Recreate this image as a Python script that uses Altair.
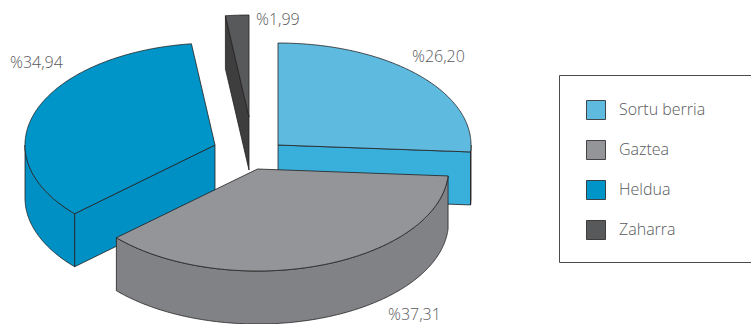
import math
import altair as alt

# Pie shares, in percent, and their names
names = ["Sortu berria", "Gaztea", "Heldua", "Zaharra"]
shares = [26.20, 37.31, 34.94, 1.99]
labels = ["%26,20", "%37,31", "%34,94", "%1,99"]

# Colours of the top faces and of the side walls
top_colors = ["#5fbadf", "#939598", "#0095c8", "#58595b"]
wall_colors = ["#39b0dc", "#808285", "#0090c4", "#3e3e3e"]
edge_color = "#231f20"
edge_width = 0.8
text_color = "#58595b"
font = "Open Sans"

# Layout of the exploded slices: apex of each slice, ellipse radii, wall height
apex = [(278, 145), (257.5, 169), (215, 145), (249, 117)]
radius_x = [193, 191, 190, 190]
radius_y = 102
depth = 53
label_pos = [(412, 57), (388, 315), (10, 63), (256, 20)]
draw_order = [3, 2, 0, 1]

total = sum(shares)
edges = [0.0]
for s in shares:
    edges.append(edges[-1] + 360.0 * s / total)


def rim_point(i, deg, drop=0):
    a = math.radians(deg)
    cx, cy = apex[i]
    return (cx + radius_x[i] * math.sin(a), cy - radius_y * math.cos(a) + drop)


def arc(i, start, end, drop=0):
    n = max(2, int(abs(end - start)) * 2)
    return [rim_point(i, start + (end - start) * k / n, drop) for k in range(n + 1)]


def feature(name, ring):
    ring = [list(p) for p in ring]
    return {
        "type": "Feature",
        "properties": {"name": name},
        "geometry": {"type": "Polygon", "coordinates": [ring + [ring[0]]]},
    }


def shifted(point):
    return (point[0], point[1] + depth)


def side_faces(i):
    """Walls of a slice that face the viewer, back to front."""
    start, end = edges[i], edges[i + 1]
    faces = []
    if start >= 90 and start <= 270 and end > 270:
        # cut face running from the apex to the start of the rim
        p = rim_point(i, start)
        faces.append([apex[i], p, shifted(p), shifted(apex[i])])
    if end <= 360 and end > 270 and start > 270:
        p = rim_point(i, start)
        faces.append([apex[i], p, shifted(p), shifted(apex[i])])
    if start < 90 < end:
        p = rim_point(i, end)
        faces.append([apex[i], p, shifted(p), shifted(apex[i])])
    lo, hi = max(start, 90), min(end, 270)
    if lo < hi:
        faces.append(arc(i, lo, hi) + arc(i, hi, lo, depth))
    return faces


def top_face(i):
    return [apex[i]] + arc(i, edges[i], edges[i + 1])


projection = alt.Projection(type="identity", scale=1, translate=[0, 0])
layers = [
    alt.Chart(alt.Data(values=[{"a": 1}]))
    .mark_rect(fillOpacity=0, stroke="#4a4a4a", strokeWidth=1)
    .encode(
        x=alt.value(559.5),
        x2=alt.value(790),
        y=alt.value(75.5),
        y2=alt.value(262.5),
    )
]

for i in draw_order:
    for face in side_faces(i):
        layers.append(
            alt.Chart(alt.Data(values=[feature(names[i], face)]))
            .mark_geoshape(stroke=edge_color, strokeWidth=edge_width, fill=wall_colors[i])
            .project(**projection.to_dict())
        )
    layers.append(
        alt.Chart(alt.Data(values=[feature(names[i], top_face(i))]))
        .mark_geoshape(stroke=edge_color, strokeWidth=edge_width)
        .encode(
            color=alt.Color(
                "properties.name:N",
                scale=alt.Scale(domain=names, range=top_colors),
                legend=alt.Legend(
                    title=None,
                    orient="none",
                    legendX=586,
                    legendY=100,
                    symbolType="square",
                    symbolSize=361,
                    symbolStrokeColor=edge_color,
                    symbolStrokeWidth=edge_width,
                    labelFont=font,
                    labelFontSize=16,
                    labelFontWeight=300,
                    labelColor=text_color,
                    labelOffset=13,
                    rowPadding=16,
                    padding=0,
                ),
            )
        )
        .project(**projection.to_dict())
    )

for i in range(len(names)):
    layers.append(
        alt.Chart(alt.Data(values=[{"a": 1}]))
        .mark_text(
            text=labels[i],
            align="left",
            baseline="middle",
            font=font,
            fontSize=16,
            fontWeight=300,
            color=text_color,
        )
        .encode(x=alt.value(label_pos[i][0]), y=alt.value(label_pos[i][1]))
    )

chart = (
    alt.layer(*layers)
    .properties(width=751, height=324, padding=0, autosize=alt.AutoSizeParams(type="none"))
    .configure_view(stroke=None)
)

chart.save("out.html", embed_options={"renderer": "svg", "actions": False})
